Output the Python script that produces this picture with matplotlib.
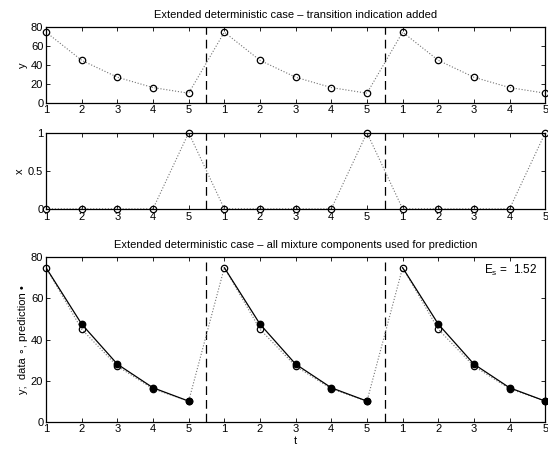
import numpy as np
import matplotlib.pyplot as plt

# one segment of data, repeated three times
y_seg = [75, 45, 27, 16, 10]
x_seg = [0, 0, 0, 0, 1]
pred_seg = [75, 47.5, 28, 16.5, 10]
n_seg = 3
boundaries = [5.5, 10.5]
es_value = 1.52

t = np.arange(1, 5 * n_seg + 1)
y = np.tile(y_seg, n_seg)
x = np.tile(x_seg, n_seg)
tick_labels = [str(v) for v in np.tile(np.arange(1, 6), n_seg)]

plt.rcParams['font.family'] = ['Liberation Sans', 'DejaVu Sans']
plt.rcParams['font.size'] = 8

fig = plt.figure(figsize=(5.48, 4.5), dpi=100)
ax_y = fig.add_axes([0.084, 0.772, 0.911, 0.167])
ax_x = fig.add_axes([0.084, 0.536, 0.911, 0.169])
ax_p = fig.add_axes([0.084, 0.063, 0.911, 0.365])


def style(ax):
    ax.set_xlim(1, 15)
    ax.set_xticks(t)
    ax.set_xticklabels(tick_labels)
    ax.tick_params(direction='in', top=True, right=True, length=3, width=0.6, pad=2)
    for s in ax.spines.values():
        s.set_linewidth(0.9)
    for b in boundaries:
        ax.axvline(b, color='k', ls=(0, (7, 4)), lw=0.9)


mk = dict(marker='o', mfc='none', mec='k', ms=4.6, mew=0.9, ls='none', clip_on=False, zorder=5)

# top: y data
style(ax_y)
ax_y.plot(t, y, ls=':', color='0.45', lw=0.8)
ax_y.plot(t, y, **mk)
ax_y.set_ylim(0, 80)
ax_y.set_yticks([0, 20, 40, 60, 80])
ax_y.set_ylabel('y', labelpad=2)
ax_y.set_title('Extended deterministic case \u2013 transition indication added', fontsize=8, pad=7)

# middle: x indicator
style(ax_x)
ax_x.plot(t, x, ls=':', color='0.45', lw=0.8)
ax_x.plot(t, x, **mk)
ax_x.set_ylim(0, 1)
ax_x.set_yticks([0, 0.5, 1])
ax_x.set_yticklabels(['0', '0.5', '1'])
ax_x.set_ylabel('x', labelpad=2)

# bottom: data vs prediction
style(ax_p)
ax_p.plot(t, y, ls=':', color='0.45', lw=0.8)
for k in range(n_seg):
    tt = t[5 * k:5 * k + 5]
    ax_p.plot(tt, pred_seg, color='k', lw=0.9)
    ax_p.plot(tt[1:], pred_seg[1:], marker='o', color='k', ms=4.6, ls='none',
              clip_on=False, zorder=6)
ax_p.plot(t, y, **mk)
ax_p.set_ylim(0, 80)
ax_p.set_yticks([0, 20, 40, 60, 80])
ax_p.set_ylabel('y;  data \u2218, prediction \u2022', labelpad=2)
ax_p.set_xlabel('t', labelpad=1)
ax_p.set_title('Extended deterministic case \u2013 all mixture components used for prediction',
               fontsize=8, pad=7)
ax_p.text(0.985, 0.965, '$\\mathregular{E_s}$ =  %.2f' % es_value, transform=ax_p.transAxes,
          ha='right', va='top', fontsize=8.5)

fig.savefig('out.png', dpi=100)
